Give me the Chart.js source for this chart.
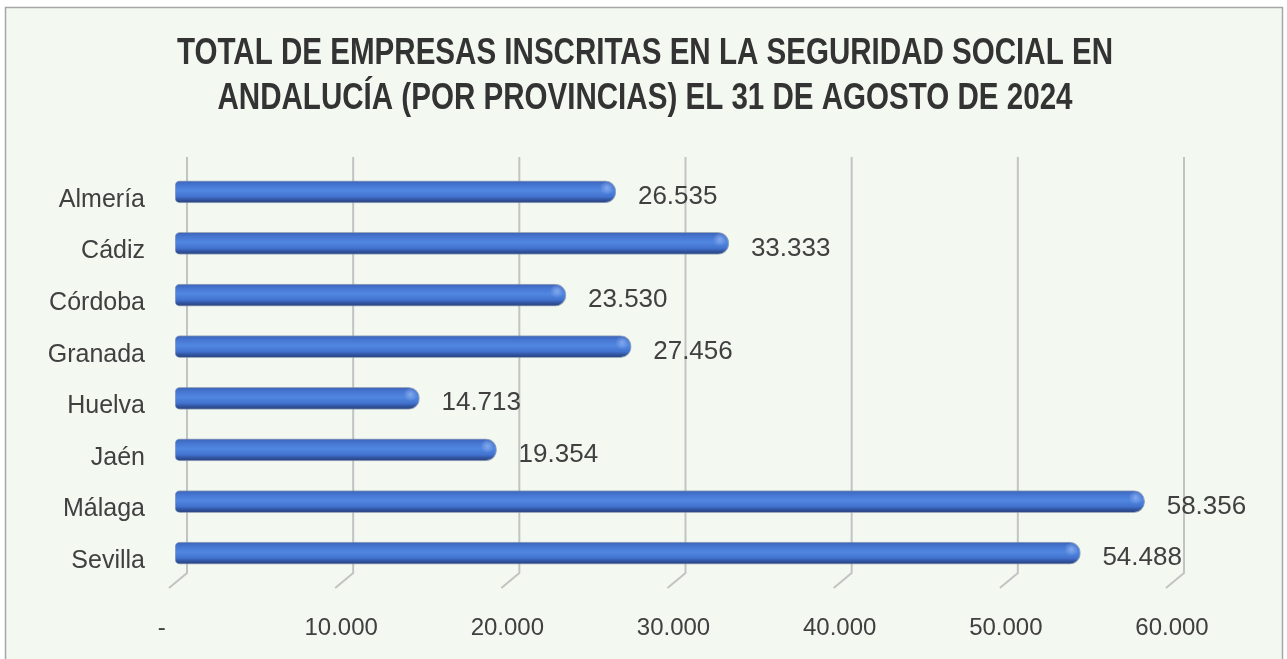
<!DOCTYPE html>
<html lang="es">
<head>
<meta charset="utf-8">
<title>Empresas inscritas en la Seguridad Social - Andalucía</title>
<script src="https://cdn.jsdelivr.net/npm/chart.js@4.4.1/dist/chart.umd.min.js"></script>
<style>
    body { margin: 0; background: #ffffff; }
    canvas { display: block; }
</style>
</head>
<body>
<canvas id="mainChart" width="1287" height="659"></canvas>
<script>
// Datos del gráfico
const provincias = ["Almería", "Cádiz", "Córdoba", "Granada", "Huelva", "Jaén", "Málaga", "Sevilla"];
const empresas = [26535, 33333, 23530, 27456, 14713, 19354, 58356, 54488];
const tituloLineas = [
    "TOTAL DE EMPRESAS INSCRITAS EN LA SEGURIDAD SOCIAL EN",
    "ANDALUCÍA (POR PROVINCIAS) EL 31 DE AGOSTO DE 2024"
];
const ejeMax = 60000;
const ejePaso = 10000;

const fmt = (v) => v.toLocaleString("de-DE");

// Fondo, marco y título (texto estrecho, como en el original)
const fondoPlugin = {
    id: "fondo",
    beforeDraw(chart) {
        const ctx = chart.ctx;
        ctx.save();
        ctx.fillStyle = "#ffffff";
        ctx.fillRect(0, 0, chart.width, chart.height);
        ctx.fillStyle = "#f3f8f1";
        ctx.fillRect(5, 7, chart.width - 9, chart.height);
        ctx.strokeStyle = "#a6a6a6";
        ctx.lineWidth = 1.5;
        ctx.strokeRect(5.5, 7.5, chart.width - 10, chart.height + 20);

        ctx.font = "bold 36px 'Liberation Sans', Arial, sans-serif";
        ctx.fillStyle = "#333333";
        ctx.textAlign = "center";
        ctx.textBaseline = "alphabetic";
        const escala = 936 / ctx.measureText(tituloLineas[0]).width;
        ctx.translate(645, 0);
        ctx.scale(escala, 1);
        ctx.fillText(tituloLineas[0], 0, 64);
        ctx.fillText(tituloLineas[1], 0, 109);
        ctx.restore();
    },
};

// Líneas de cuadrícula con efecto 3D
const rejillaPlugin = {
    id: "rejilla3d",
    beforeDatasetsDraw(chart) {
        const { ctx, chartArea, scales } = chart;
        ctx.save();
        ctx.strokeStyle = "#c3c3c3";
        ctx.lineWidth = 2;
        for (let v = 0; v <= ejeMax; v += ejePaso) {
            const px = scales.x.getPixelForValue(v);
            ctx.beginPath();
            ctx.moveTo(px + 12, chartArea.top - 9);
            ctx.lineTo(px + 12, chartArea.bottom - 6);
            ctx.lineTo(px - 6, chartArea.bottom + 9);
            ctx.stroke();
        }
        ctx.restore();
    },
};

// Brillo en el extremo y etiquetas de valor
const etiquetasPlugin = {
    id: "etiquetas",
    afterDatasetsDraw(chart) {
        const ctx = chart.ctx;
        const meta = chart.getDatasetMeta(0);
        ctx.save();
        meta.data.forEach((bar) => {
            const g = ctx.createRadialGradient(bar.x - 9, bar.y - 4, 0, bar.x - 9, bar.y - 4, 7);
            g.addColorStop(0, "rgba(140, 175, 240, 0.85)");
            g.addColorStop(1, "rgba(140, 175, 240, 0)");
            ctx.fillStyle = g;
            ctx.beginPath();
            ctx.arc(bar.x - 9, bar.y - 4, 7, 0, Math.PI * 2);
            ctx.fill();
        });
        ctx.font = "26px 'Liberation Sans', Arial, sans-serif";
        ctx.fillStyle = "#404040";
        ctx.textAlign = "left";
        ctx.textBaseline = "middle";
        meta.data.forEach((bar, i) => {
            ctx.fillText(fmt(empresas[i]), bar.x + 22, bar.y + 5);
        });
        ctx.restore();
    },
};

function gradienteBarra(context) {
    const chart = context.chart;
    const y = chart.scales.y;
    if (!y || context.dataIndex === undefined) return "#4a7ad6";
    const cy = y.getPixelForValue(context.dataIndex);
    if (!isFinite(cy)) return "#4a7ad6";
    const g = chart.ctx.createLinearGradient(0, cy - 11, 0, cy + 11);
    g.addColorStop(0, "#3b63b8");
    g.addColorStop(0.2, "#4677d2");
    g.addColorStop(0.45, "#5187e0");
    g.addColorStop(0.72, "#4272cf");
    g.addColorStop(0.88, "#2f5099");
    g.addColorStop(1, "#2a4580");
    return g;
}

const ctx = document.getElementById("mainChart").getContext("2d");
new Chart(ctx, {
    type: "bar",
    data: {
        labels: provincias,
        datasets: [
            {
                label: "Empresas inscritas",
                data: empresas,
                backgroundColor: gradienteBarra,
                borderColor: "rgba(120, 135, 165, 0.7)",
                borderWidth: 1,
                borderSkipped: false,
                borderRadius: { topLeft: 5, bottomLeft: 5, topRight: 11, bottomRight: 11 },
                barThickness: 22,
            },
        ],
    },
    options: {
        indexAxis: "y",
        responsive: false,
        animation: false,
        layout: { padding: { left: 0, right: 115, top: 166, bottom: 16 } },
        scales: {
            x: {
                min: 0,
                max: ejeMax,
                grid: { display: false },
                border: { display: false },
                afterFit: (scale) => { scale.height = 64; },
                ticks: {
                    stepSize: ejePaso,
                    padding: 27,
                    color: "#404040",
                    font: { family: "'Liberation Sans', Arial, sans-serif", size: 24 },
                    callback: (v) => (v === 0 ? "-    " : fmt(v)),
                },
            },
            y: {
                grid: { display: false },
                border: { display: false },
                afterFit: (scale) => { scale.width = 175; },
                ticks: {
                    padding: 22,
                    labelOffset: 8,
                    color: "#404040",
                    font: { family: "'Liberation Sans', Arial, sans-serif", size: 25 },
                },
            },
        },
        plugins: {
            legend: { display: false },
            tooltip: { enabled: false },
            title: { display: false },
        },
    },
    plugins: [fondoPlugin, rejillaPlugin, etiquetasPlugin],
});
</script>
</body>
</html>
